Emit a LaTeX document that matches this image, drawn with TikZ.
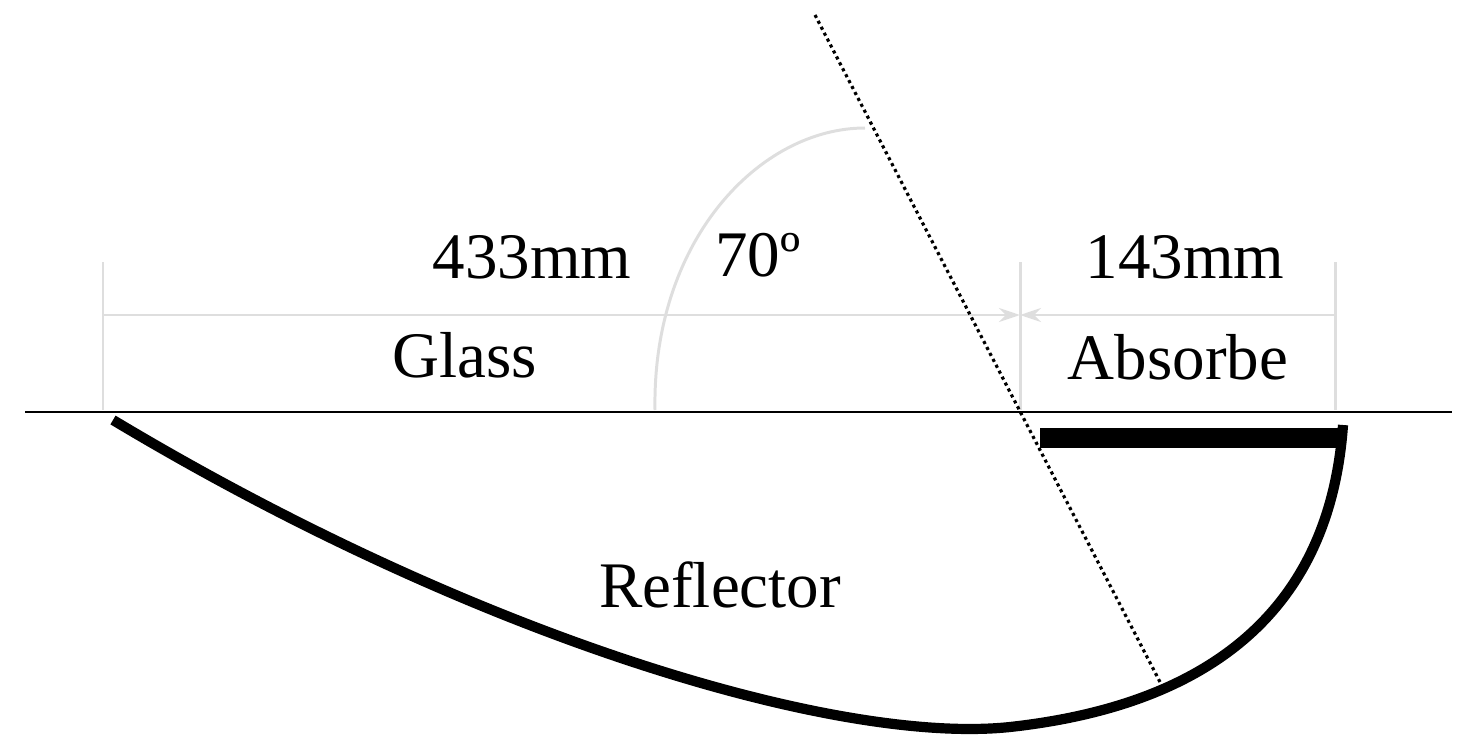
\documentclass[tikz,border=0pt]{standalone}
\usepackage{fontspec}
\setmainfont{Liberation Serif}
\usetikzlibrary{arrows.meta}
\begin{document}
\begin{tikzpicture}[x=0.02cm,y=-0.02cm,
  dim/.style={draw=black!13,line width=1.7pt},
  lbl/.style={font=\fontsize{37}{40}\selectfont,inner sep=0pt},
  thickl/.style={line width=5.8pt}]
\useasboundingbox (0,0) rectangle (1475,754);
% extension lines
\coordinate (e1t) at (103,262); \coordinate (e1b) at (103,410);
\coordinate (e2t) at (1020,262); \coordinate (e2b) at (1020,410);
\coordinate (e3t) at (1335,262); \coordinate (e3b) at (1335,410);
\draw[dim] (e1t) -- (e1b);
\draw[dim] (e2t) -- (e2b);
\draw[dim] (e3t) -- (e3b);
\coordinate (d1) at (103,315); \coordinate (d2) at (1020,315); \coordinate (d3) at (1335,315);
\draw[dim,-{Stealth[length=12pt,width=8pt]}] (d1) -- (d2);
\draw[dim,{Stealth[length=12pt,width=8pt]}-] (d2) -- (d3);
% angle arc
\coordinate (a1) at (655,410); \coordinate (a2) at (865,128);
\draw[dim] (a1) .. controls (652,240) and (760,128) .. (a2);
% glass line
\coordinate (g1) at (25,412); \coordinate (g2) at (1452,412);
\draw[line width=1.3pt] (g1) -- (g2);
% dotted normal
\coordinate (n1) at (815,15); \coordinate (n2) at (1160,682);
\draw[line width=1.8pt,dotted] (n1) -- (n2);
% reflector
\coordinate (r1) at (113,420); \coordinate (rm) at (1010,727); \coordinate (r2) at (1343,425);
\draw[thickl] (r1) .. controls (480,640) and (840,745) .. (rm)
  .. controls (1210,705) and (1330,610) .. (r2);
% absorber
\fill (1040,428) rectangle (1340,448);
% labels
\node[lbl] (t1) at (532,257) {433mm};
\node[lbl] (t2) at (758,255) {70º};
\node[lbl] (t3) at (1185,257) {143mm};
\node[lbl] (t4) at (465,355) {Glass};
\node[lbl] (t5) at (1178,357) {Absorbe};
\node[lbl] (t6) at (720,585) {Reflector};
\end{tikzpicture}
\end{document}
